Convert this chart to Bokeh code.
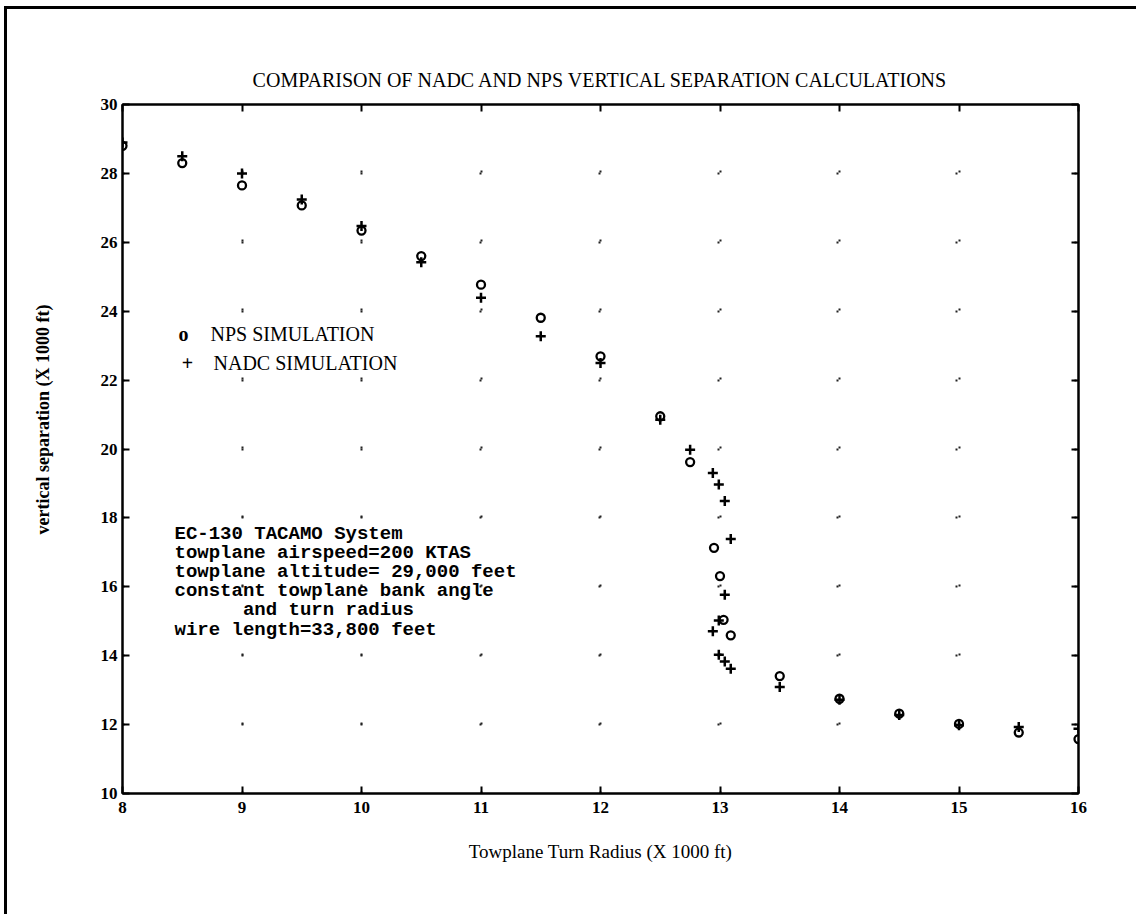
import math
from bokeh.plotting import figure
from bokeh.models import Range1d, Label, FixedTicker, LinearAxis, Title
from bokeh.embed import file_html
from bokeh.resources import INLINE

# ---------------- data ----------------
title_text = "COMPARISON OF NADC AND NPS VERTICAL SEPARATION CALCULATIONS"
x_label = "Towplane Turn Radius (X 1000 ft)"
y_label = "vertical separation (X 1000 ft)"
x_ticks = [8, 9, 10, 11, 12, 13, 14, 15, 16]
y_ticks = [10, 12, 14, 16, 18, 20, 22, 24, 26, 28, 30]

nps_x = [8.0, 8.5, 9.0, 9.5, 10.0, 10.5, 11.0, 11.5, 12.0, 12.5, 12.75, 12.95,
         13.0, 13.03, 13.09, 13.5, 14.0, 14.5, 15.0, 15.5, 16.0]
nps_y = [28.8, 28.3, 27.65, 27.07, 26.34, 25.6, 24.77, 23.81, 22.69, 20.95, 19.62,
         17.13, 16.31, 15.04, 14.59, 13.41, 12.75, 12.32, 12.02, 11.77, 11.58]

nadc_x = [8.0, 8.5, 9.0, 9.5, 10.0, 10.5, 11.0, 11.5, 12.0, 12.5, 12.75, 12.94,
          12.99, 13.04, 13.09, 13.04, 12.99, 12.94, 12.99, 13.04, 13.09, 13.5,
          14.0, 14.5, 15.0, 15.5, 16.0]
nadc_y = [28.9, 28.5, 28.0, 27.24, 26.47, 25.42, 24.39, 23.27, 22.5, 20.85, 19.98,
          19.3, 18.97, 18.49, 17.39, 15.77, 15.02, 14.71, 14.03, 13.83, 13.62, 13.09,
          12.72, 12.28, 11.98, 11.93, 11.88]

legend_labels = ["NPS SIMULATION", "NADC SIMULATION"]
legend_symbols = ["o", "+"]
note_lines = [
    "EC-130 TACAMO System",
    "towplane airspeed=200 KTAS",
    "towplane altitude= 29,000 feet",
    "constant towplane bank angle",
    "\u00a0\u00a0\u00a0\u00a0\u00a0\u00a0and turn radius",
    "wire length=33,800 feet",
]

# ---------------- layout ----------------
W, H = 1132, 908
OFF_X, OFF_Y = 7, 9          # page border + margin
FL, FR, FT, FB = 122, 1078, 104, 793   # frame on page

def dx(px):
    return 8 + (px - FL) / (FR - FL) * 8

def dy(py):
    return 30 - (py - FT) / (FB - FT) * 20

p = figure(width=W, height=H, output_backend="svg", toolbar_location=None,
           x_range=Range1d(8, 16), y_range=Range1d(10, 30),
           min_border_left=FL - OFF_X, min_border_right=W - (FR - OFF_X),
           min_border_top=FT - OFF_Y, min_border_bottom=H - (FB - OFF_Y),
           background_fill_color="white", border_fill_color="white")
p.styles = {"border-left": "3px solid black", "border-top": "3px solid black",
            "margin-left": "4px", "margin-top": "6px"}

p.title.text = title_text
p.title.align = "center"
p.title.text_font = "Liberation Serif"
p.title.text_font_size = "20px"
p.title.text_font_style = "normal"
p.title.text_color = "black"
p.title.standoff = 28

p.outline_line_color = "black"
p.outline_line_width = 2

xa = p.xaxis[0]
ya = p.yaxis[0]
xa.ticker = FixedTicker(ticks=x_ticks)
ya.ticker = FixedTicker(ticks=y_ticks)
top = LinearAxis(ticker=FixedTicker(ticks=x_ticks))
right = LinearAxis(ticker=FixedTicker(ticks=y_ticks))
p.add_layout(top, "above")
p.add_layout(right, "right")
for ax, show in [(xa, True), (ya, True), (top, False), (right, False)]:
    ax.major_tick_in = 7
    ax.major_tick_out = 0
    ax.minor_tick_line_color = None
    ax.axis_line_color = "black"
    ax.axis_line_width = 2
    ax.major_tick_line_width = 2
    ax.major_tick_line_color = "black"
    ax.major_label_text_font = "Liberation Serif"
    ax.major_label_text_font_style = "bold"
    ax.major_label_text_font_size = "17px"
    ax.major_label_text_color = "black"
    if not show:
        ax.major_label_text_color = None
        ax.major_label_standoff = 0
xa.major_label_standoff = 8
ya.major_label_standoff = 5

xa.axis_label = x_label
xa.axis_label_text_font = "Liberation Serif"
xa.axis_label_text_font_style = "normal"
xa.axis_label_text_font_size = "19px"
xa.axis_label_text_color = "black"
xa.axis_label_standoff = 25

# y label: vertical title in the left panel; the trailing blank line keeps it
# away from the tick labels
p.add_layout(Title(text=y_label + "\n\u00a0", align="right", offset=200,
                   vertical_align="top",
                   text_font="Liberation Serif", text_font_style="bold",
                   text_font_size="18px", text_color="black", standoff=46), "left")

p.xgrid.ticker = FixedTicker(ticks=x_ticks)
p.ygrid.ticker = FixedTicker(ticks=y_ticks)
p.xgrid.grid_line_color = "#222222"
p.xgrid.grid_line_width = 2
p.xgrid.grid_line_dash = "2 67"
p.ygrid.grid_line_color = "#222222"
p.ygrid.grid_line_width = 2
p.ygrid.grid_line_dash = "2 117"

# data marks
p.scatter(nps_x, nps_y, marker="circle", size=8, fill_color=None,
          line_color="black", line_width=2.3)
p.scatter(nadc_x, nadc_y, marker="cross", size=10, line_color="black",
          line_width=2.5)

# legend text
leg_y = [333, 362]
leg_sym_x = [183, 187]
leg_txt_x = [210, 213]
for sym, lab, yy, sx, tx in zip(legend_symbols, legend_labels, leg_y, leg_sym_x, leg_txt_x):
    p.add_layout(Label(x=dx(sx), y=dy(yy), text=sym, text_align="center",
                       text_baseline="middle", text_font="Liberation Serif",
                       text_font_size="20px", text_font_style="bold",
                       text_color="black"))
    p.add_layout(Label(x=dx(tx), y=dy(yy), text=lab, text_align="left",
                       text_baseline="middle", text_font="Liberation Serif",
                       text_font_size="20px", text_color="black"))

# annotation block
for i, line in enumerate(note_lines):
    p.add_layout(Label(x=dx(174), y=dy(533 + i * 19.2), text=line,
                       text_align="left", text_baseline="middle",
                       text_font="Liberation Mono", text_font_style="bold",
                       text_font_size="19px", text_color="black"))

open("out.html", "w").write(file_html(p, INLINE))
